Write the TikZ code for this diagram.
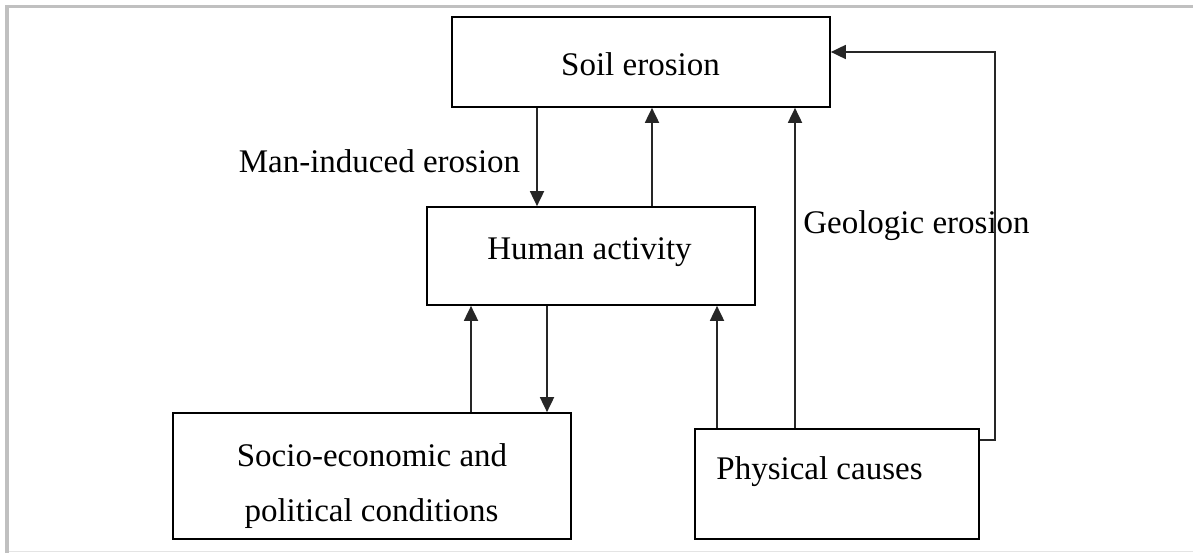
\documentclass[tikz,border=0pt]{standalone}
\usepackage{fontspec}
\setmainfont{Liberation Serif}
\usetikzlibrary{arrows.meta}
\definecolor{framegray}{HTML}{C0C0C0}
\definecolor{rulegray}{HTML}{E4E4E4}

\begin{document}
\begin{tikzpicture}[x=1pt,y=-1pt,
  box/.style={draw=black,line width=1.7pt,rectangle,inner sep=0pt},
  lbl/.style={anchor=base,inner sep=0pt,font=\fontsize{33}{40}\selectfont},
  link/.style={draw=black!85,line width=1.8pt,-{Triangle[length=15pt,width=14pt]}}]

  % page extent and frame
  \useasboundingbox (0,0) rectangle (1193,553);
  \fill[white] (0,0) rectangle (1193,553);
  \draw[framegray,line width=3pt] (5,6.8) -- (1193,6.8);
  \draw[framegray,line width=3.5pt] (7,5) -- (7,553);
  \draw[rulegray,line width=1pt] (9,551.5) -- (1193,551.5);

  % boxes
  \node[box,minimum width=378pt,minimum height=90pt]  (soil)     at (641,62)  {};
  \node[box,minimum width=328pt,minimum height=98pt]  (human)    at (591,256) {};
  \node[box,minimum width=398pt,minimum height=126pt] (socio)    at (372,476) {};
  \node[box,minimum width=284pt,minimum height=110pt] (physical) at (837,484) {};

  % box texts
  \node[lbl] (tsoil)  at (640.5,76)  {Soil erosion};
  \node[lbl] (thuman) at (589.5,259) {Human activity};
  \node[lbl] (tsocioa) at (372,466)  {Socio-economic and};
  \node[lbl] (tsociob) at (371.5,521) {political conditions};
  \node[lbl] (tphys)  at (819.5,479) {Physical causes};

  % connector labels
  \node[lbl] (tman) at (379.5,173) {Man-induced erosion};
  \node[lbl] (tgeo) at (916.5,234) {Geologic erosion};

  % connectors
  \draw[link] ([xshift=-104pt]soil.south) -- ([xshift=-54pt]human.north);
  \draw[link] ([xshift=61pt]human.north) -- ([xshift=11pt]soil.south);
  \draw[link] ([xshift=99pt]socio.north) -- ([xshift=-120pt]human.south);
  \draw[link] ([xshift=-44pt]human.south) -- ([xshift=175pt]socio.north);
  \draw[link] ([xshift=-120pt]physical.north) -- ([xshift=126pt]human.south);
  \draw[link] ([xshift=-42pt]physical.north) -- ([xshift=154pt]soil.south);
  \draw[link] ([yshift=44pt]physical.east) -- ++(15,0) |- ([yshift=10pt]soil.east);
\end{tikzpicture}
\end{document}
